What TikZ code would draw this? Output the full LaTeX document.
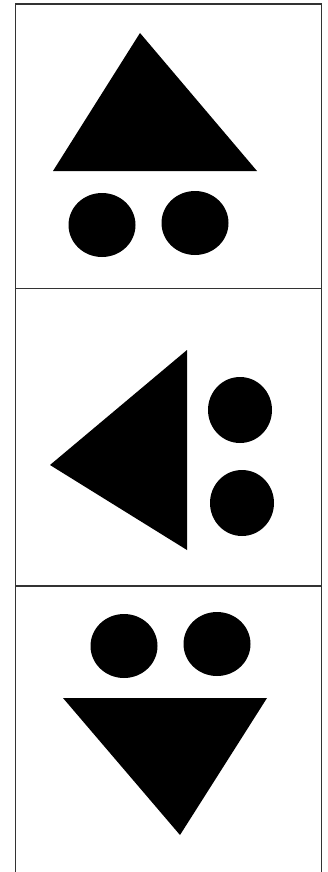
\documentclass[tikz,border=0pt]{standalone}
\usepackage{tikz}

\begin{document}
\begin{tikzpicture}[x=1pt,y=-1pt,
  frame/.style={line width=1.8pt,black!80},
  blob/.style={fill=black}]
\useasboundingbox (0,0) rectangle (327,872);
% frame and dividers
\draw[frame] (15.5,872)--(15.5,4)--(321.5,4)--(321.5,872);
\foreach \y in {288.5,586}
\draw[frame] (15.5,\y)--(321.5,\y);
% panel 1
\fill[blob] (140,33)--(53,171)--(257,171)--cycle;
\fill[blob] (102,225) ellipse (33.5 and 32);
\fill[blob] (195,223) ellipse (33.5 and 32);
% panel 2
\fill[blob] (187,350)--(50,465)--(187,550)--cycle;
\fill[blob] (240,410) ellipse (32 and 33);
\fill[blob] (242,503) ellipse (32 and 33);
% panel 3
\fill[blob] (63,698)--(267,698)--(180,835)--cycle;
\fill[blob] (124,646) ellipse (33.5 and 32);
\fill[blob] (217,644) ellipse (33.5 and 32);
\end{tikzpicture}
\end{document}
